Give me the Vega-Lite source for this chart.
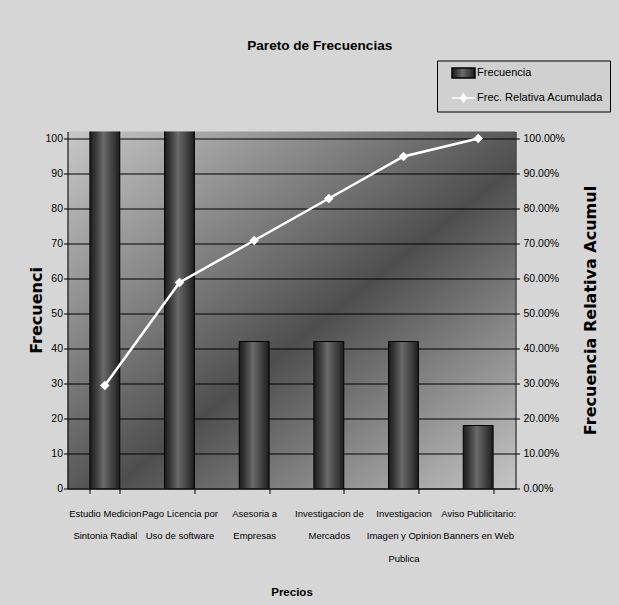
{
  "$schema": "https://vega.github.io/schema/vega-lite/v6.json",
  "width": 448,
  "height": 357,
  "autosize": {"type": "none"},
  "padding": {"left": 67.5, "top": 131.5, "right": 103.5, "bottom": 116.5},
  "background": "#d6d6d6",
  "title": {
    "text": "Pareto de Frecuencias",
    "font": "Liberation Sans",
    "fontSize": 13.6,
    "fontWeight": "bold",
    "color": "#000000",
    "anchor": "middle",
    "frame": "bounds",
    "offset": 7
  },
  "data": {
    "values": [
      {"servicio": "Estudio Medicion Sintonia Radial", "frecuencia": 103, "acumulada": 0.2943},
      {"servicio": "Pago Licencia por Uso de software", "frecuencia": 103, "acumulada": 0.5886},
      {"servicio": "Asesoria a Empresas", "frecuencia": 42, "acumulada": 0.7086},
      {"servicio": "Investigacion de Mercados", "frecuencia": 42, "acumulada": 0.8286},
      {"servicio": "Investigacion Imagen y Opinion Publica", "frecuencia": 42, "acumulada": 0.9486},
      {"servicio": "Aviso Publicitario: Banners en Web", "frecuencia": 18, "acumulada": 1.0}
    ]
  },
  "encoding": {
    "x": {
      "field": "servicio",
      "type": "nominal",
      "sort": null,
      "scale": {"paddingInner": 0.6, "paddingOuter": 0.3},
      "axis": {
        "title": "Precios",
        "tickBand": "extent",
        "labelAngle": 0,
        "labelOverlap": false,
        "labelExpr": "datum.value == 'Estudio Medicion Sintonia Radial' ? ['Estudio Medicion', 'Sintonia Radial'] : datum.value == 'Pago Licencia por Uso de software' ? ['Pago Licencia por', 'Uso de software'] : datum.value == 'Asesoria a Empresas' ? ['Asesoria a', 'Empresas'] : datum.value == 'Investigacion de Mercados' ? ['Investigacion de', 'Mercados'] : datum.value == 'Investigacion Imagen y Opinion Publica' ? ['Investigacion', 'Imagen y Opinion', 'Publica'] : datum.value == 'Aviso Publicitario: Banners en Web' ? ['Aviso Publicitario:', 'Banners en Web'] : ''",
        "labelFont": "Liberation Sans",
        "labelFontSize": 9.5,
        "labelLineHeight": 22.5,
        "labelBaseline": "top",
        "labelPadding": 14.5,
        "labelColor": "#000000",
        "labelLimit": 0,
        "tickColor": "#000000",
        "tickSize": 5,
        "domainColor": "#000000",
        "titleFont": "Liberation Sans",
        "titleFontSize": 11.5,
        "titleFontWeight": "bold",
        "titleColor": "#000000",
        "titlePadding": 23.5
      }
    }
  },
  "layer": [
    {
      "mark": {
        "type": "bar",
        "clip": true,
        "strokeWidth": 1,
        "fill": {
          "gradient": "linear",
          "x1": 0, "y1": 0, "x2": 1, "y2": 0,
          "stops": [
            {"offset": 0, "color": "#1c1c1c"},
            {"offset": 0.2, "color": "#3a3a3a"},
            {"offset": 0.45, "color": "#6a6a6a"},
            {"offset": 0.8, "color": "#3a3a3a"},
            {"offset": 1, "color": "#1c1c1c"}
          ]
        }
      },
      "encoding": {
        "y": {
          "field": "frecuencia",
          "type": "quantitative",
          "scale": {"domain": [0, 102], "nice": false},
          "axis": {
            "title": "Frecuenci",
            "values": [0, 10, 20, 30, 40, 50, 60, 70, 80, 90, 100],
            "grid": true,
            "gridColor": "#000000",
            "gridOpacity": 1,
            "gridWidth": 1,
            "tickColor": "#000000",
            "tickSize": 4,
            "domainColor": "#000000",
            "labelFont": "Liberation Sans",
            "labelFontSize": 10.5,
            "labelColor": "#000000",
            "labelPadding": 1,
            "titleFont": "DejaVu Sans",
            "titleFontSize": 16,
            "titleFontWeight": "bold",
            "titleColor": "#000000",
            "titlePadding": 0
          }
        },
        "stroke": {
          "datum": "Frecuencia",
          "type": "nominal",
          "scale": {"domain": ["Frecuencia", "Frec. Relativa Acumulada"], "range": ["#000000", "#ffffff"]},
          "legend": {
            "title": null,
            "orient": "none",
            "legendX": 369.5,
            "legendY": -71,
            "direction": "vertical",
            "padding": 6.5,
            "strokeColor": "#000000",
            "fillColor": "#d0d0d0",
            "labelFont": "Liberation Sans",
            "labelFontSize": 11,
            "labelColor": "#000000",
            "labelLimit": 300,
            "symbolSize": 100,
            "symbolOffset": 14,
            "labelOffset": 7.5,
            "rowPadding": 10,
            "symbolType": {"expr": "datum.value === 'Frecuencia' ? 'M-2.3,-1H2.3V1H-2.3Z' : 'M-2.3,0H2.3M0,-0.8L0.5,0L0,0.8L-0.5,0ZM0,-0.45L0.28,0L0,0.45L-0.28,0ZM0,-0.8V0.8'"},
            "symbolStrokeWidth": 1.5
          }
        }
      }
    },
    {
      "mark": {
        "type": "line",
        "strokeWidth": 2.5,
        "point": {"shape": "diamond", "filled": true, "fill": "#ffffff", "size": 45}
      },
      "encoding": {
        "y": {
          "field": "acumulada",
          "type": "quantitative",
          "scale": {"domain": [0, 1.02], "nice": false},
          "axis": {
            "orient": "right",
            "title": "Frecuencia Relativa Acumul",
            "format": ".2%",
            "values": [0, 0.1, 0.2, 0.3, 0.4, 0.5, 0.6, 0.7, 0.8, 0.9, 1],
            "grid": false,
            "tickColor": "#000000",
            "tickSize": 4,
            "domainColor": "#000000",
            "labelFont": "Liberation Sans",
            "labelFontSize": 10.5,
            "labelColor": "#000000",
            "labelPadding": 3.5,
            "titleFont": "DejaVu Sans",
            "titleFontSize": 16,
            "titleFontWeight": "bold",
            "titleColor": "#000000",
            "titleAngle": 270,
            "titlePadding": 34
          }
        },
        "stroke": {"datum": "Frec. Relativa Acumulada", "type": "nominal", "legend": null}
      }
    }
  ],
  "resolve": {"scale": {"y": "independent"}},
  "config": {
    "view": {
      "stroke": null,
      "fill": {
        "gradient": "linear",
        "x1": 0, "y1": 0, "x2": 1, "y2": 1,
        "stops": [
          {"offset": 0, "color": "#c8c8c8"},
          {"offset": 0.55, "color": "#4e4e4e"},
          {"offset": 1, "color": "#c6c6c6"}
        ]
      }
    }
  }
}
